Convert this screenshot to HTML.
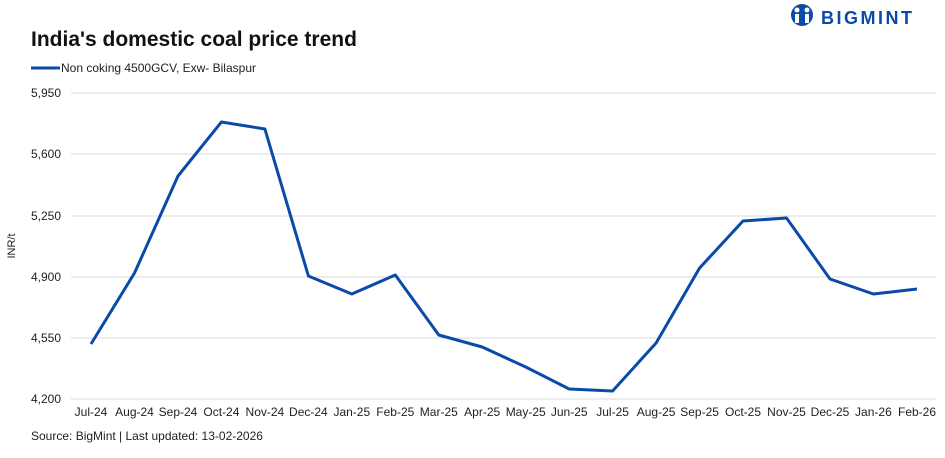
<!DOCTYPE html>
<html><head><meta charset="utf-8"><style>
body{margin:0;background:#fff;}
svg text{font-family:"Liberation Sans",sans-serif;}
</style></head><body>
<svg width="945" height="453" viewBox="0 0 945 453" xmlns="http://www.w3.org/2000/svg">
<rect width="945" height="453" fill="#fff"/>
<g>
<circle cx="802" cy="15" r="11" fill="#0a4aa8"/>
<circle cx="797" cy="10" r="2.5" fill="#fff"/><circle cx="807" cy="10" r="2.5" fill="#fff"/>
<rect x="795" y="14" width="4" height="9" fill="#fff"/><rect x="805" y="14" width="4" height="9" fill="#fff"/>
<text x="821" y="24" font-size="18" font-weight="bold" fill="#0a4aa8" letter-spacing="2.5">BIGMINT</text>
</g>
<text x="31" y="46" font-size="21" font-weight="bold" fill="#111">India's domestic coal price trend</text>
<line x1="31" y1="68" x2="60" y2="68" stroke="#0a4aa8" stroke-width="3"/>
<text x="61" y="72" font-size="12" fill="#222">Non coking 4500GCV, Exw- Bilaspur</text>
<g stroke="#d9d9d9" stroke-width="1">
<line x1="71" y1="93" x2="936" y2="93"/><line x1="71" y1="154" x2="936" y2="154"/>
<line x1="71" y1="216" x2="936" y2="216"/><line x1="71" y1="277" x2="936" y2="277"/>
<line x1="71" y1="338" x2="936" y2="338"/><line x1="71" y1="399" x2="936" y2="399"/>
</g>
<g font-size="12" fill="#222" text-anchor="end">
<text x="61" y="97">5,950</text><text x="61" y="158">5,600</text><text x="61" y="220">5,250</text>
<text x="61" y="281">4,900</text><text x="61" y="342">4,550</text><text x="61" y="403">4,200</text>
</g>
<text transform="translate(15,246) rotate(-90)" font-size="11" fill="#222" text-anchor="middle">INR/t</text>
<polyline fill="none" stroke="#0a4aa8" stroke-width="3" stroke-linejoin="round"
points="91,344 134.5,273 178,176 221.4,122 264.9,129 308.4,276 351.8,294 395.3,275 438.8,335 482.2,347 525.7,367 569.2,389 612.6,391 656.1,343 699.6,268 743,221 786.5,218 830,279 873.4,294 917,289"/>
<g font-size="12" fill="#222" text-anchor="middle">
<text x="91" y="416">Jul-24</text><text x="134.5" y="416">Aug-24</text><text x="178" y="416">Sep-24</text>
<text x="221.4" y="416">Oct-24</text><text x="264.9" y="416">Nov-24</text><text x="308.4" y="416">Dec-24</text>
<text x="351.8" y="416">Jan-25</text><text x="395.3" y="416">Feb-25</text><text x="438.8" y="416">Mar-25</text>
<text x="482.2" y="416">Apr-25</text><text x="525.7" y="416">May-25</text><text x="569.2" y="416">Jun-25</text>
<text x="612.6" y="416">Jul-25</text><text x="656.1" y="416">Aug-25</text><text x="699.6" y="416">Sep-25</text>
<text x="743" y="416">Oct-25</text><text x="786.5" y="416">Nov-25</text><text x="830" y="416">Dec-25</text>
<text x="873.4" y="416">Jan-26</text><text x="917" y="416">Feb-26</text>
</g>
<text x="31" y="440" font-size="12" fill="#222">Source: BigMint | Last updated: 13-02-2026</text>
</svg>
</body></html>
